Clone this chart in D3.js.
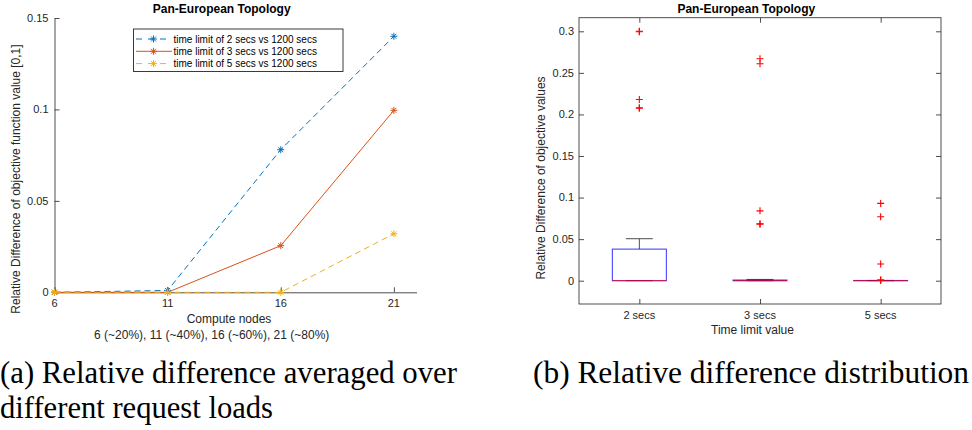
<!DOCTYPE html>
<html>
<head>
<meta charset="utf-8">
<script src="https://cdn.jsdelivr.net/npm/d3@7"></script>
<style>
  html, body { margin: 0; padding: 0; background: #fff; }
  svg { display: block; }
</style>
</head>
<body>
<div id="chart"></div>
<script>
// ---------- Data (left panel) ----------
const nodes = [6, 11, 16, 21];
const seriesNames = [
  "time limit of 2 secs vs 1200 secs",
  "time limit of 3 secs vs 1200 secs",
  "time limit of 5 secs vs 1200 secs"
];
const diff2secs = [0, 0.001, 0.078, 0.140];
const diff3secs = [0, 0, 0.0255, 0.0995];
const diff5secs = [0, 0, 0, 0.032];
const leftYTicks = [0, 0.05, 0.1, 0.15];
const leftYTickLabels = ["0", "0.05", "0.1", "0.15"];
const leftXTicks = [6, 11, 16, 21];

// ---------- Data (right panel: box plot stats) ----------
const groups = ["2 secs", "3 secs", "5 secs"];
const boxQ1 = [0, 0, 0];
const boxMedian = [0, 0, 0];
const boxQ3 = [0.038, 0.0008, 0.0003];
const whiskerLow = [0, 0, 0];
const whiskerHigh = [0.0505, 0.0015, 0.0003];
const outliers2secs = [0.300, 0.2995, 0.218, 0.208, 0.2075];
const outliers3secs = [0.267, 0.261, 0.084, 0.068, 0.0685];
const outliers5secs = [0.093, 0.077, 0.020, 0.0012, 0.0003];
const rightYTicks = [0, 0.05, 0.1, 0.15, 0.2, 0.25, 0.3];
const rightYTickLabels = ["0", "0.05", "0.1", "0.15", "0.2", "0.25", "0.3"];

const titleText = "Pan-European Topology";
const captionA = ["(a) Relative difference averaged over", "different request loads"];
const captionB = "(b) Relative difference distribution";

// ---------- Setup ----------
const W = 972, H = 430;
const svg = d3.select("#chart").append("svg").attr("width", W).attr("height", H);
svg.append("rect").attr("width", W).attr("height", H).attr("fill", "#fff");

const FONT = "'Liberation Sans', Arial, Helvetica, sans-serif";
const SERIF = "'Liberation Serif', 'Times New Roman', serif";
const TXT = "#262626";
const AX = "#3a3a3a";
const colors = ["#0072BD", "#D95319", "#EDB120"];
const dashes = ["6,4", null, "6,4"];

function asteriskPath(r) {
  const d = r * Math.SQRT1_2;
  return `M${-r},0L${r},0M0,${-r}L0,${r}M${-d},${-d}L${d},${d}M${-d},${d}L${d},${-d}`;
}

// ---------- Left panel ----------
const L = { x0: 54.5, x1: 416.5, y0: 292.3, y1: 18 };
const xL = d3.scaleLinear().domain([6, 22]).range([L.x0, L.x1]);
const yL = d3.scaleLinear().domain([0, 0.15]).range([L.y0, L.y1]);
const gL = svg.append("g");

// axes (box off, ticks inward)
const yAxisL = d3.axisRight(yL).tickValues(leftYTicks).tickFormat(() => "").tickSize(5).tickSizeOuter(0);
gL.append("g").attr("transform", `translate(${L.x0},0)`).call(yAxisL)
  .call(g => { g.select(".domain").attr("stroke", AX).attr("stroke-width", 0.9);
               g.selectAll(".tick line").attr("stroke", AX).attr("stroke-width", 0.9); });
const xAxisL = d3.axisTop(xL).tickValues(leftXTicks).tickFormat(() => "").tickSize(5).tickSizeOuter(0);
gL.append("g").attr("transform", `translate(0,${L.y0})`).call(xAxisL)
  .call(g => { g.select(".domain").attr("stroke", AX).attr("stroke-width", 0.9);
               g.selectAll(".tick line").attr("stroke", AX).attr("stroke-width", 0.9); });

// tick labels
gL.selectAll("text.ylab").data(leftYTicks).enter().append("text")
  .attr("x", L.x0 - 6).attr("y", d => yL(d)).attr("dy", "0.35em")
  .attr("text-anchor", "end").attr("font-family", FONT).attr("font-size", 11).attr("fill", TXT)
  .text((d, i) => leftYTickLabels[i]);
gL.selectAll("text.xlab").data(leftXTicks).enter().append("text")
  .attr("x", d => xL(d)).attr("y", L.y0 + 14.5)
  .attr("text-anchor", "middle").attr("font-family", FONT).attr("font-size", 11).attr("fill", TXT)
  .text(d => d);

// series
const seriesData = [diff2secs, diff3secs, diff5secs];
const line = d3.line().x((d, i) => xL(nodes[i])).y(d => yL(d));
seriesData.forEach((vals, s) => {
  gL.append("path").datum(vals).attr("d", line)
    .attr("fill", "none").attr("stroke", colors[s]).attr("stroke-width", 1)
    .attr("stroke-dasharray", dashes[s]);
  gL.selectAll(null).data(vals).enter().append("path")
    .attr("transform", (d, i) => `translate(${xL(nodes[i])},${yL(d)})`)
    .attr("d", asteriskPath(3.5)).attr("stroke", colors[s]).attr("stroke-width", 1).attr("fill", "none");
});

// titles / labels
gL.append("text").attr("x", 221.7).attr("y", 13).attr("text-anchor", "middle")
  .attr("font-family", FONT).attr("font-size", 12).attr("font-weight", "bold").attr("fill", "#000")
  .text(titleText);
gL.append("text").attr("x", 229).attr("y", 323).attr("text-anchor", "middle")
  .attr("font-family", FONT).attr("font-size", 12).attr("fill", TXT).text("Compute nodes");
gL.append("text").attr("x", 211.7).attr("y", 338.5).attr("text-anchor", "middle")
  .attr("font-family", FONT).attr("font-size", 12).attr("fill", TXT)
  .text("6 (~20%), 11 (~40%), 16 (~60%), 21 (~80%)");
gL.append("text").attr("transform", "translate(19.5,179) rotate(-90)").attr("text-anchor", "middle")
  .attr("font-family", FONT).attr("font-size", 12).attr("fill", TXT)
  .text("Relative Difference of objective function value [0,1]");

// legend
const leg = gL.append("g");
leg.append("rect").attr("x", 133.5).attr("y", 29).attr("width", 209.5).attr("height", 42.5)
  .attr("fill", "#fff").attr("stroke", "#262626").attr("stroke-width", 0.9);
seriesNames.forEach((name, s) => {
  const yy = 39 + s * 12.3;
  leg.append("line").attr("x1", 136).attr("x2", 172).attr("y1", yy).attr("y2", yy)
    .attr("stroke", colors[s]).attr("stroke-width", 1).attr("stroke-dasharray", dashes[s] ? "6,6" : null);
  leg.append("path").attr("transform", `translate(153.5,${yy})`).attr("d", asteriskPath(3.5))
    .attr("stroke", colors[s]).attr("stroke-width", 1).attr("fill", "none");
  leg.append("text").attr("x", 173.5).attr("y", yy).attr("dy", "0.35em")
    .attr("font-family", FONT).attr("font-size", 10).attr("fill", "#000").text(name);
});

// ---------- Right panel ----------
const R = { x0: 579, x1: 941, y0: 304, y1: 17.7 };
const xR = d3.scaleLinear().domain([0.5, 3.5]).range([R.x0, R.x1]);
const yR = d3.scaleLinear().domain([-0.02803, 0.31636]).range([R.y0, R.y1]);
const gR = svg.append("g");

const styleAx = g => { g.select(".domain").remove();
  g.selectAll(".tick line").attr("stroke", AX).attr("stroke-width", 0.9); };
gR.append("g").attr("transform", `translate(${R.x0},0)`)
  .call(d3.axisRight(yR).tickValues(rightYTicks).tickFormat(() => "").tickSize(5)).call(styleAx);
gR.append("g").attr("transform", `translate(${R.x1},0)`)
  .call(d3.axisLeft(yR).tickValues(rightYTicks).tickFormat(() => "").tickSize(5)).call(styleAx);
gR.append("g").attr("transform", `translate(0,${R.y0})`)
  .call(d3.axisTop(xR).tickValues([1, 2, 3]).tickFormat(() => "").tickSize(5)).call(styleAx);
gR.append("g").attr("transform", `translate(0,${R.y1})`)
  .call(d3.axisBottom(xR).tickValues([1, 2, 3]).tickFormat(() => "").tickSize(5)).call(styleAx);
gR.append("rect").attr("x", R.x0).attr("y", R.y1).attr("width", R.x1 - R.x0).attr("height", R.y0 - R.y1)
  .attr("fill", "none").attr("stroke", AX).attr("stroke-width", 0.9);

gR.selectAll("text.ylab").data(rightYTicks).enter().append("text")
  .attr("x", R.x0 - 5).attr("y", d => yR(d)).attr("dy", "0.35em")
  .attr("text-anchor", "end").attr("font-family", FONT).attr("font-size", 11).attr("fill", TXT)
  .text((d, i) => rightYTickLabels[i]);
gR.selectAll("text.xlab").data(groups).enter().append("text")
  .attr("x", (d, i) => xR(i + 1)).attr("y", R.y0 + 15)
  .attr("text-anchor", "middle").attr("font-family", FONT).attr("font-size", 11).attr("fill", TXT)
  .text(d => d);

// boxes
const halfW = 27, capHalf = 13.5;
groups.forEach((gname, i) => {
  const cx = xR(i + 1);
  gR.append("line").attr("x1", cx).attr("x2", cx).attr("y1", yR(boxQ3[i])).attr("y2", yR(whiskerHigh[i]))
    .attr("stroke", "#4d4d4d").attr("stroke-width", 1);
  gR.append("line").attr("x1", cx - capHalf).attr("x2", cx + capHalf).attr("y1", yR(whiskerHigh[i])).attr("y2", yR(whiskerHigh[i]))
    .attr("stroke", "#4d4d4d").attr("stroke-width", 1);
  gR.append("line").attr("x1", cx - capHalf).attr("x2", cx + capHalf).attr("y1", yR(whiskerLow[i])).attr("y2", yR(whiskerLow[i]))
    .attr("stroke", "#4d4d4d").attr("stroke-width", 1);
  gR.append("rect").attr("x", cx - halfW).attr("width", 2 * halfW)
    .attr("y", yR(boxQ3[i])).attr("height", Math.max(0.01, yR(boxQ1[i]) - yR(boxQ3[i])))
    .attr("fill", "none").attr("stroke", "#0000ff").attr("stroke-width", 1).attr("stroke-opacity", 0.8);
  gR.append("line").attr("x1", cx - halfW).attr("x2", cx + halfW).attr("y1", yR(boxMedian[i])).attr("y2", yR(boxMedian[i]))
    .attr("stroke", "#ff0000").attr("stroke-width", 1).attr("stroke-opacity", 0.75);
});
const outlierSets = [outliers2secs, outliers3secs, outliers5secs];
outlierSets.forEach((vals, i) => {
  gR.selectAll(null).data(vals).enter().append("path")
    .attr("transform", d => `translate(${xR(i + 1)},${yR(d)})`)
    .attr("d", "M-3.5,0L3.5,0M0,-3.5L0,3.5").attr("stroke", "#ff0000").attr("stroke-width", 1.1).attr("fill", "none");
});

gR.append("text").attr("x", 746.3).attr("y", 13).attr("text-anchor", "middle")
  .attr("font-family", FONT).attr("font-size", 12).attr("font-weight", "bold").attr("fill", "#000")
  .text(titleText);
gR.append("text").attr("x", 752.5).attr("y", 334).attr("text-anchor", "middle")
  .attr("font-family", FONT).attr("font-size", 12).attr("fill", TXT).text("Time limit value");
gR.append("text").attr("transform", "translate(544.5,178) rotate(-90)").attr("text-anchor", "middle")
  .attr("font-family", FONT).attr("font-size", 12).attr("fill", TXT)
  .text("Relative Difference of objective values");

// ---------- Captions ----------
svg.append("text").attr("x", 0).attr("y", 383).attr("font-family", SERIF).attr("font-size", 31)
  .attr("fill", "#000").attr("textLength", 457).attr("lengthAdjust", "spacingAndGlyphs").text(captionA[0]);
svg.append("text").attr("x", 0).attr("y", 418).attr("font-family", SERIF).attr("font-size", 31)
  .attr("fill", "#000").attr("textLength", 273).attr("lengthAdjust", "spacingAndGlyphs").text(captionA[1]);
svg.append("text").attr("x", 533).attr("y", 383).attr("font-family", SERIF).attr("font-size", 31)
  .attr("fill", "#000").attr("textLength", 436).attr("lengthAdjust", "spacingAndGlyphs").text(captionB);
</script>
</body>
</html>
